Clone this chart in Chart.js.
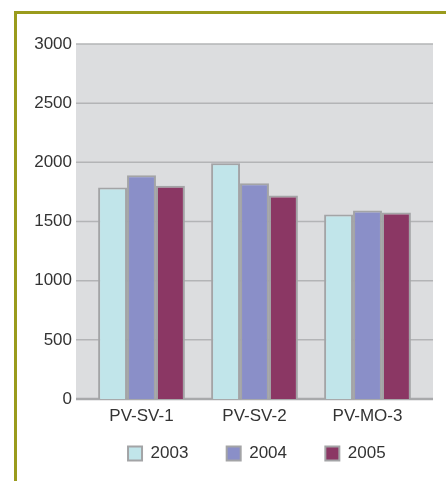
<!DOCTYPE html>
<html>
<head>
<meta charset="utf-8">
<script src="https://cdn.jsdelivr.net/npm/chart.js@4"></script>
<style>
  html, body { margin: 0; padding: 0; background: #fff; }
  #wrap { position: relative; width: 446px; height: 481px; overflow: hidden; }
  #frameTop { position: absolute; left: 14px; top: 11px; width: 432px; height: 3px; background: #9a9b1d; }
  #frameLeft { position: absolute; left: 14px; top: 11px; width: 3px; height: 470px; background: #9a9b1d; }
  canvas { position: absolute; left: 0; top: 0; }
</style>
</head>
<body>
<div id="wrap">
  <canvas id="prodChart" width="446" height="481"></canvas>
  <div id="frameTop"></div>
  <div id="frameLeft"></div>
</div>
<script>
const categories = ['PV-SV-1', 'PV-SV-2', 'PV-MO-3'];
const years = ['2003', '2004', '2005'];
const values2003 = [1787, 1992, 1560];
const values2004 = [1891, 1824, 1593];
const values2005 = [1802, 1720, 1576];
const yearColors = ['#c1e5ea', '#8a8fc8', '#8b3764'];

const FONT = '"Liberation Sans", Arial, sans-serif';
const EXTRA = 9; // la zone grise déborde un peu des catégories

// fond gris + lignes de grille, un peu plus larges que la zone des barres
const plotBackground = {
    id: 'plotBackground',
    beforeDatasetsDraw(chart) {
        const { ctx, chartArea } = chart;
        const yScale = chart.scales.y;
        const left = chartArea.left - EXTRA;
        const right = chartArea.right + EXTRA;
        ctx.save();
        ctx.fillStyle = '#dcdddf';
        ctx.fillRect(left, chartArea.top, right - left, chartArea.bottom - chartArea.top);
        yScale.ticks.forEach(tick => {
            const y = yScale.getPixelForValue(tick.value);
            ctx.beginPath();
            ctx.strokeStyle = tick.value === 0 ? '#a8a9ab' : '#b3b4b6';
            ctx.lineWidth = tick.value === 0 ? 2.5 : 1.5;
            ctx.moveTo(left, y);
            ctx.lineTo(right, y);
            ctx.stroke();
        });
        ctx.restore();
    }
};

const ctx = document.getElementById('prodChart');
new Chart(ctx, {
    type: 'bar',
    data: {
        labels: categories,
        datasets: [values2003, values2004, values2005].map((vals, i) => ({
            label: years[i],
            data: vals,
            backgroundColor: yearColors[i],
            borderColor: '#a3a4a6',
            borderWidth: 2,
            categoryPercentage: 0.768,
            barPercentage: 1.0
        }))
    },
    options: {
        responsive: false,
        animation: false,
        layout: {
            padding: { top: 44, right: 22, left: 0, bottom: 9 }
        },
        plugins: {
            legend: {
                position: 'bottom',
                align: 'end',
                labels: {
                    color: '#333',
                    font: { family: FONT, size: 17 },
                    boxWidth: 14,
                    boxHeight: 14,
                    padding: 10,
                    // espaces pour écarter les entrées de la légende
                    generateLabels(chart) {
                        const items = Chart.defaults.plugins.legend.labels.generateLabels(chart);
                        items.forEach(it => { it.text = it.text + '      '; });
                        return items;
                    }
                }
            },
            tooltip: { enabled: false }
        },
        scales: {
            x: {
                afterFit(scale) { scale.height = 36; },
                grid: { display: false, drawTicks: false },
                border: { display: false },
                ticks: {
                    color: '#333',
                    font: { family: FONT, size: 17 },
                    padding: 7
                }
            },
            y: {
                min: 0,
                max: 3000,
                afterFit(scale) { scale.width = 85; },
                grid: { display: false, drawTicks: false },
                border: { display: false },
                ticks: {
                    stepSize: 500,
                    color: '#333',
                    padding: 13,
                    font: { family: FONT, size: 17 },
                    callback: (value) => String(value)
                }
            }
        }
    },
    plugins: [plotBackground]
});
</script>
</body>
</html>
